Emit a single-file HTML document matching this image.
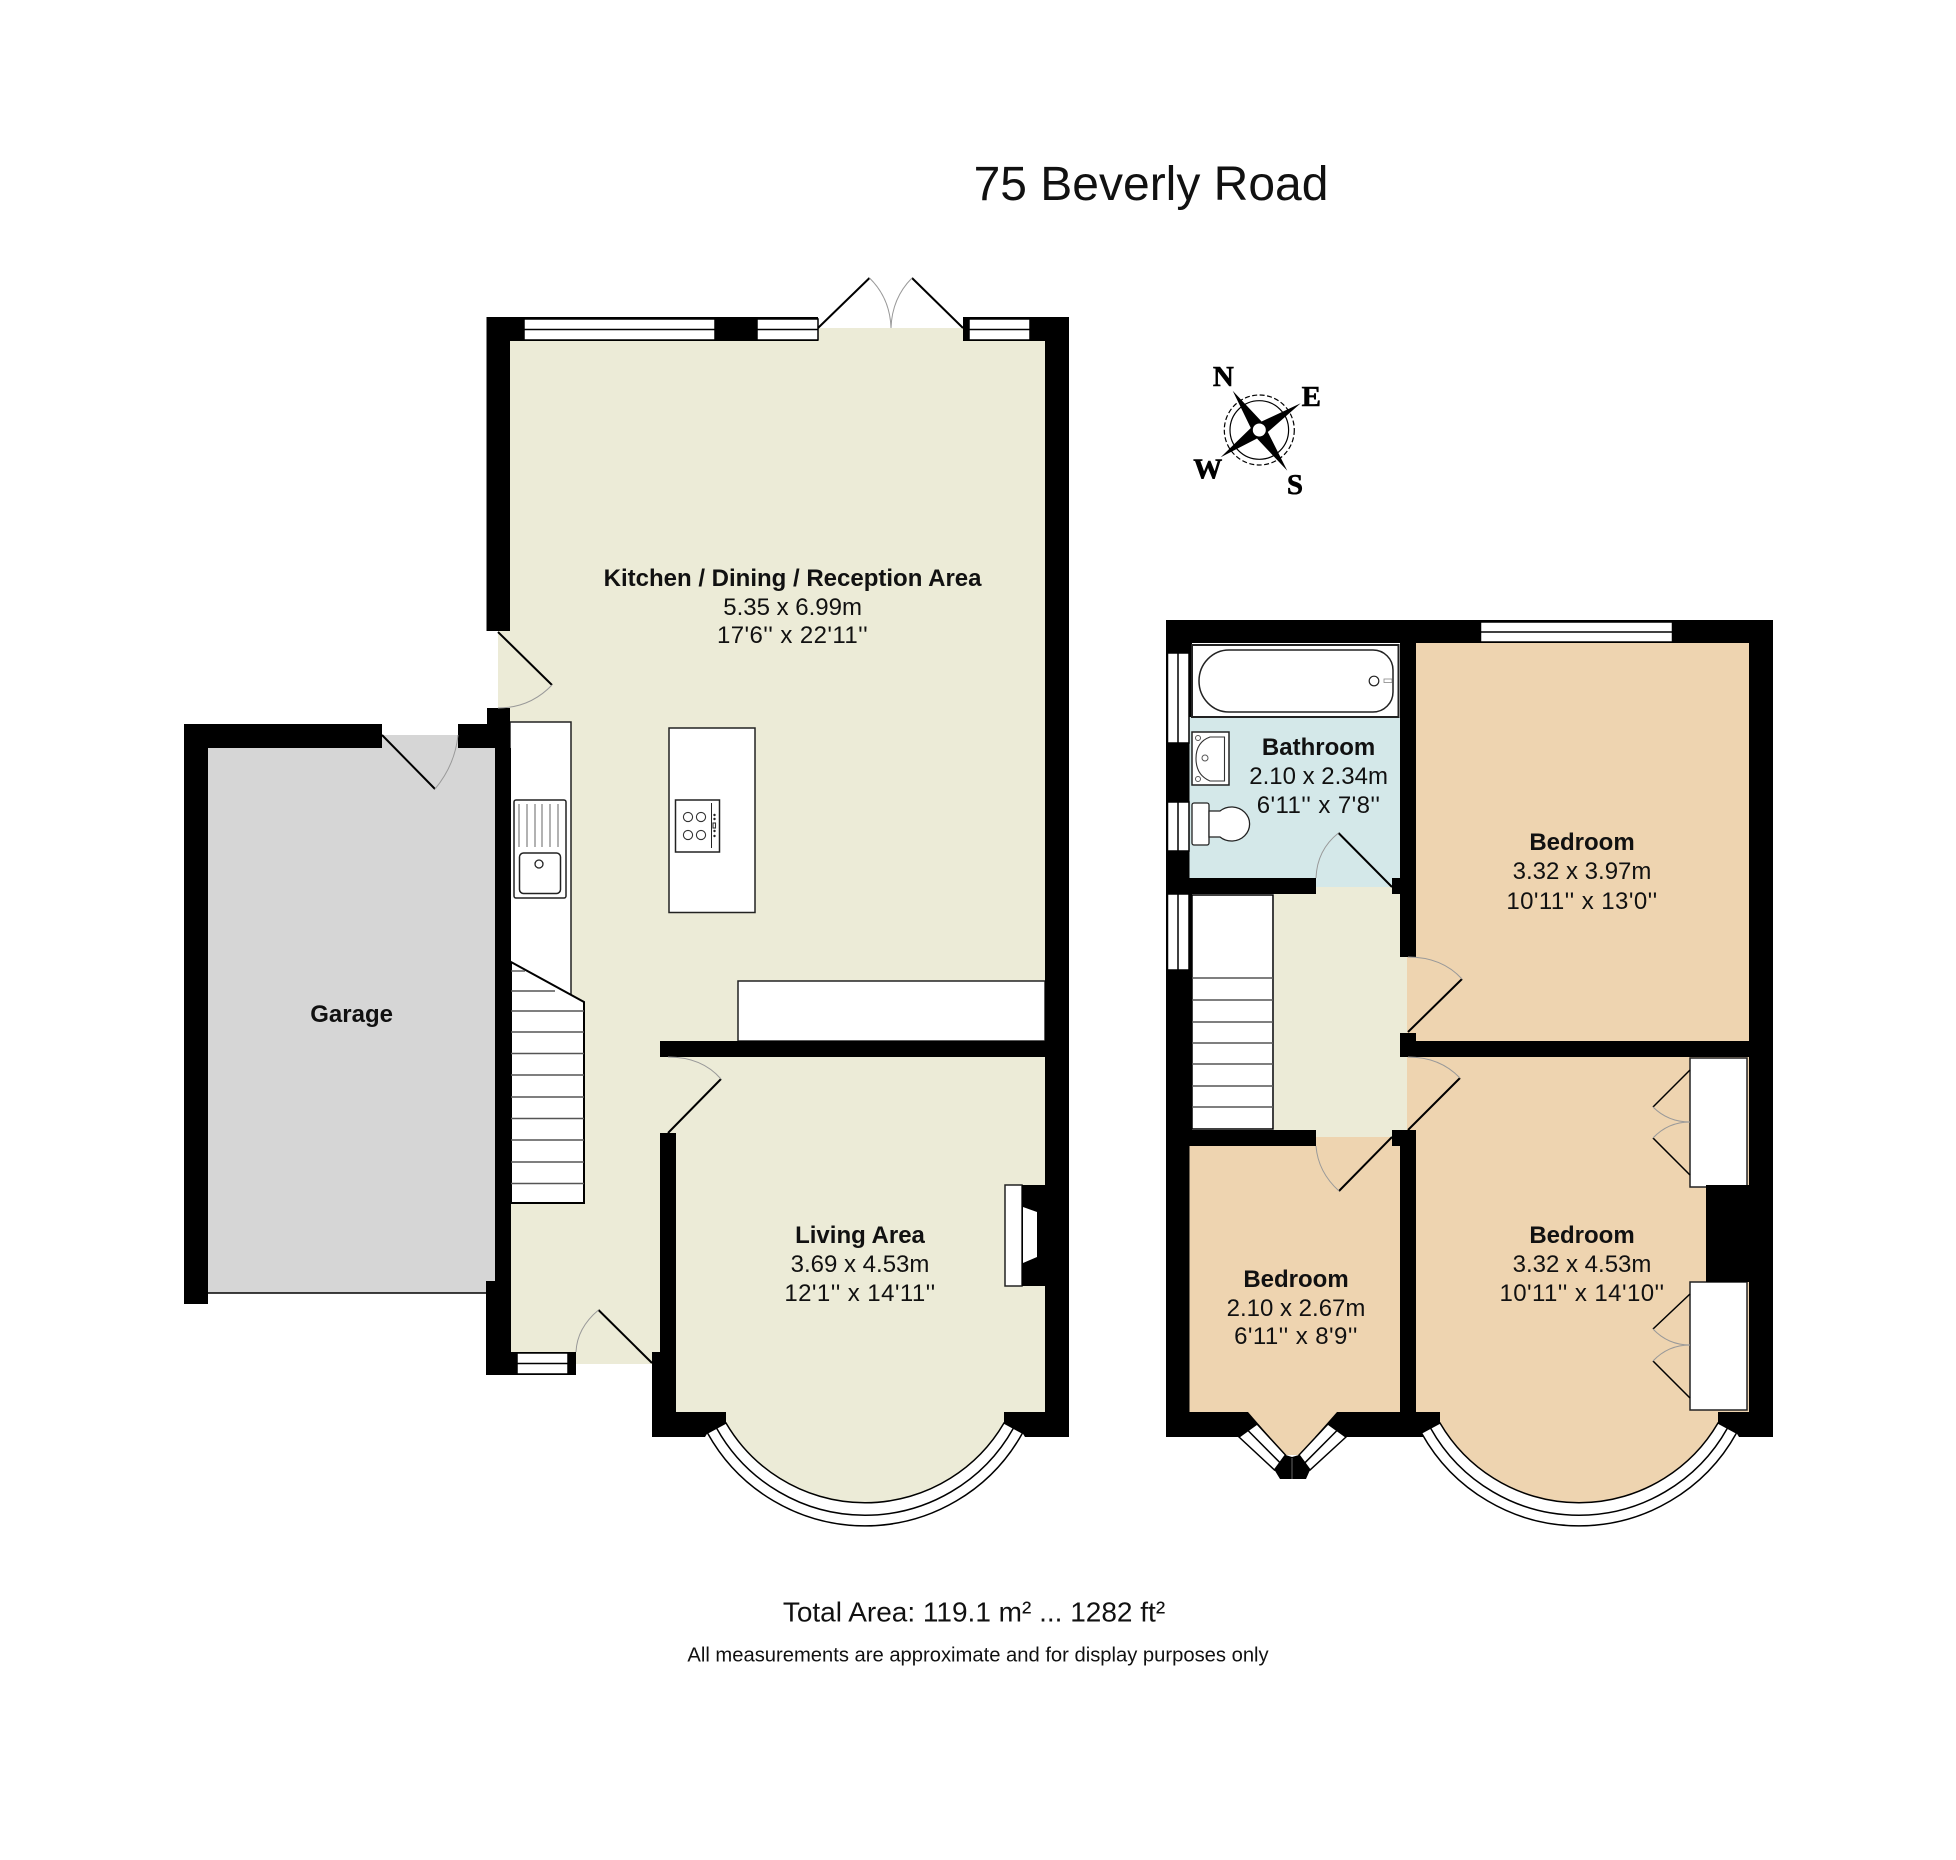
<!DOCTYPE html>
<html lang="en">
<head>
<meta charset="utf-8">
<title>75 Beverly Road</title>
<style>
html,body{margin:0;padding:0;background:#fff;width:1956px;height:1860px;overflow:hidden}
svg{display:block}
text{font-family:"Liberation Sans",sans-serif;fill:#111;text-anchor:middle}
.t{font-size:24px}
.ft{font-size:24px;letter-spacing:.42px}
.b{font-size:24px;font-weight:bold}
.c{font-family:"Liberation Serif",serif;font-size:29px;font-weight:bold;fill:#000;stroke:#000;stroke-width:.6}
.k{fill:#000;stroke:none}
.w{fill:#fff;stroke:#000;stroke-width:1.5}
.m{fill:none;stroke:#000;stroke-width:1.5}
.leaf{stroke:#000;stroke-width:2;fill:none}
.arc{stroke:#999;stroke-width:1;fill:none}
.f{fill:#fff;stroke:#222;stroke-width:1.5}
.s{stroke:#555;stroke-width:1.4}
.cr{fill:#ECEBD7}.be{fill:#EED4B0}.bl{fill:#D4E8E9}.gr{fill:#D6D6D6}
</style>
</head>
<body>
<svg width="1956" height="1860" viewBox="0 0 1956 1860" xmlns="http://www.w3.org/2000/svg">
<rect width="1956" height="1860" fill="#fff"/>
<text x="1151" y="200" style="font-size:48px">75 Beverly Road</text>

<!-- GROUND FLOOR floors -->
<rect class="gr" x="208" y="748" width="287" height="545"/>
<rect class="gr" x="382" y="735" width="76" height="13"/>
<rect class="cr" x="510" y="341" width="535" height="700"/>
<rect class="cr" x="818" y="328" width="145" height="13"/>
<rect class="cr" x="498" y="631" width="12" height="77"/>
<rect class="cr" x="510" y="1041" width="150" height="311"/>
<rect class="cr" x="576" y="1352" width="76" height="12"/>
<rect class="cr" x="660" y="1057" width="385" height="355"/>
<path class="cr" d="M726 1412V1423A161 161 0 0 0 1004 1423V1412Z"/>

<!-- fixtures ground -->
<polygon class="f" points="510,722 571,722 571,995 510,962"/>
<rect class="f" x="669" y="728" width="86" height="184.500"/>
<rect class="f" x="738" y="981" width="307" height="60"/>
<rect x="514" y="800" width="52" height="98" rx="2" fill="#fff" stroke="#222" stroke-width="1.5"/>
<rect x="519.500" y="853" width="41" height="40.500" rx="4" fill="#fff" stroke="#222" stroke-width="1.5"/>
<g stroke="#666" stroke-width="1">
<line x1="519" y1="804" x2="519" y2="847"/><line x1="527" y1="804" x2="527" y2="847"/><line x1="535" y1="804" x2="535" y2="847"/><line x1="542" y1="804" x2="542" y2="847"/><line x1="550" y1="804" x2="550" y2="847"/><line x1="558" y1="804" x2="558" y2="847"/>
</g>
<circle cx="539" cy="864" r="4" fill="#fff" stroke="#222" stroke-width="1.3"/>
<rect x="675.500" y="800" width="44" height="52" fill="#fff" stroke="#222" stroke-width="1.5"/>
<g fill="#fff" stroke="#333" stroke-width="1.1">
<circle cx="688" cy="817" r="4.600"/><circle cx="701" cy="817" r="4.600"/><circle cx="688" cy="835" r="4.600"/><circle cx="701" cy="835" r="4.600"/>
<rect x="713" y="823" width="2.500" height="5"/>
</g>
<line x1="711.500" y1="803" x2="711.500" y2="848" stroke="#222" stroke-width="1"/>
<g fill="#222"><circle cx="714.500" cy="815" r="1.200"/><circle cx="714.500" cy="819" r="1.200"/><circle cx="714.500" cy="831" r="1.200"/><circle cx="714.500" cy="836" r="1.200"/></g>

<!-- stairs -->
<polygon points="511,962 584,1002 584,1203 511,1203" fill="#fff" stroke="#000" stroke-width="2"/>
<g class="s">
<line x1="511" y1="971" x2="525" y2="971"/><line x1="511" y1="991" x2="555" y2="991"/><line x1="511" y1="1011" x2="584" y2="1011"/><line x1="511" y1="1032" x2="584" y2="1032"/><line x1="511" y1="1053.500" x2="584" y2="1053.500"/><line x1="511" y1="1075" x2="584" y2="1075"/><line x1="511" y1="1097" x2="584" y2="1097"/><line x1="511" y1="1118.500" x2="584" y2="1118.500"/><line x1="511" y1="1140" x2="584" y2="1140"/><line x1="511" y1="1162" x2="584" y2="1162"/><line x1="511" y1="1183.500" x2="584" y2="1183.500"/>
</g>

<!-- fireplace -->
<rect class="f" x="1005" y="1185" width="17" height="101"/>
<rect class="k" x="1022" y="1185" width="24" height="101"/>
<polygon points="1023,1207 1037,1212 1037,1257 1023,1263" fill="#fff"/>

<!-- walls ground -->
<g class="k">
<rect x="486.500" y="317" width="331.500" height="24"/>
<rect x="963" y="317" width="106" height="24"/>
<rect x="486.500" y="317" width="23.500" height="314"/>
<rect x="487" y="708" width="23" height="40"/>
<rect x="495" y="748" width="16" height="533"/>
<rect x="1045" y="317" width="24" height="1120"/>
<rect x="184" y="724" width="198" height="24"/>
<rect x="458" y="724" width="40" height="24"/>
<rect x="184" y="724" width="24" height="580"/>
<rect x="486" y="1281" width="25" height="94"/>
<rect x="511" y="1352" width="65" height="23"/>
<rect x="660" y="1041" width="409" height="16"/>
<rect x="660" y="1133" width="16" height="280"/>
<rect x="652" y="1352" width="24" height="85"/>
<polygon points="652,1412 726,1412 726,1423 707.500,1433 705,1437 652,1437"/>
<polygon points="1004,1412 1069,1412 1069,1437 1025,1437 1022.500,1433 1004,1423"/>
</g>
<line x1="184" y1="1293" x2="495" y2="1293" stroke="#000" stroke-width="1.500"/>

<!-- windows ground -->
<rect class="w" x="524" y="319" width="191" height="21"/><line class="m" x1="524" y1="329.500" x2="715" y2="329.500"/>
<rect class="w" x="757" y="319" width="61" height="21"/><line class="m" x1="757" y1="329.500" x2="818" y2="329.500"/>
<rect class="w" x="969" y="319" width="61" height="21"/><line class="m" x1="969" y1="329.500" x2="1030" y2="329.500"/>
<rect class="w" x="517" y="1353" width="51" height="21"/><line class="m" x1="517" y1="1363.500" x2="568" y2="1363.500"/>
<path class="w" d="M707.500 1433A180 180 0 0 0 1022.500 1433L1004 1423A161 161 0 0 1 726 1423Z"/>
<path class="m" d="M716.500 1428A170 170 0 0 0 1013.500 1428"/>

<!-- doors ground -->
<path class="leaf" d="M818 328L869.500 278M963 328L912 278M498 632L552 685M382 735L435 789M668 1133L721 1079M652 1363L598.500 1310"/>
<path class="arc" d="M869.500 278Q890 298 891 328M912 278Q892 298 891 328M552 685Q530 708 498 708M435 789Q455 765 458 735M721 1079Q702 1057 668 1057M598.500 1310Q577 1328 576 1352"/>

<!-- UPPER FLOOR floors -->
<rect class="bl" x="1189" y="717" width="211" height="161"/>
<rect class="bl" x="1316" y="878" width="76" height="9"/>
<rect class="cr" x="1274" y="887" width="133" height="250"/>
<rect class="be" x="1416" y="643" width="333" height="398"/>
<rect class="be" x="1407" y="957" width="9" height="76"/>
<rect class="be" x="1416" y="1057" width="333" height="355"/>
<rect class="be" x="1407" y="1057" width="9" height="73"/>
<rect class="be" x="1189" y="1146" width="211" height="266"/>
<rect class="be" x="1316" y="1137" width="76" height="9"/>

<!-- chimney + wardrobes -->
<rect class="f" x="1690" y="1058" width="57" height="129"/>
<rect class="f" x="1690" y="1282" width="57" height="128"/>
<rect class="k" x="1706" y="1185" width="43" height="97"/>

<!-- walls upper -->
<g class="k">
<rect x="1166" y="620" width="607" height="23"/>
<rect x="1166" y="620" width="23.500" height="817"/>
<rect x="1189" y="620" width="3" height="97"/>
<rect x="1189" y="878" width="3" height="252"/>
<rect x="1749" y="620" width="24" height="817"/>
<rect x="1400" y="620" width="16" height="337"/>
<rect x="1400" y="1033" width="16" height="24"/>
<rect x="1400" y="1041" width="373" height="16"/>
<rect x="1166" y="878" width="150" height="16"/>
<rect x="1392" y="878" width="8" height="16"/>
<rect x="1166" y="1130" width="150" height="16"/>
<rect x="1392" y="1130" width="24" height="16"/>
<rect x="1400" y="1130" width="16" height="307"/>
<rect x="1166" y="1412" width="274" height="25"/>
<polygon points="1416,1412 1440,1412 1440,1423 1421.500,1433 1419,1437 1416,1437"/>
<polygon points="1718,1412 1773,1412 1773,1437 1739,1437 1736.500,1433 1718,1423"/>
</g>
<polygon class="be" points="1248,1412 1285.500,1455 1299,1455 1337,1412"/>
<polygon points="1239,1437 1274.500,1470 1310,1470 1346,1437 1350,1445 1310,1485 1275,1485 1235,1445" fill="#fff"/>
<polygon class="k" points="1285.500,1455 1274.500,1470 1280,1479 1306,1479 1310,1470 1299,1455 1292,1457"/>
<line x1="1292" y1="1458" x2="1292" y2="1479" stroke="#666" stroke-width="1"/>
<polygon class="w" points="1257,1424 1239,1437 1274.500,1470 1285.500,1455"/>
<line class="m" x1="1248" y1="1430.500" x2="1280" y2="1462.700"/>
<polygon class="w" points="1328,1424 1346,1437 1310,1470 1299,1455"/>
<line class="m" x1="1337" y1="1430.500" x2="1305" y2="1462.700"/>

<g transform="translate(714 0)">
<path class="be" d="M726 1412V1423A161 161 0 0 0 1004 1423V1412Z"/>
<path class="w" d="M707.500 1433A180 180 0 0 0 1022.500 1433L1004 1423A161 161 0 0 1 726 1423Z"/>
<path class="m" d="M716.500 1428A170 170 0 0 0 1013.500 1428"/>
</g>

<!-- windows upper -->
<rect class="w" x="1480.500" y="622" width="192" height="20"/><line class="m" x1="1480.500" y1="632" x2="1672.500" y2="632"/>
<rect class="w" x="1167.500" y="653" width="21.500" height="90"/><line class="m" x1="1178" y1="653" x2="1178" y2="743"/>
<rect class="w" x="1167.500" y="802" width="21.500" height="49"/><line class="m" x1="1178" y1="802" x2="1178" y2="851"/>
<rect class="w" x="1167.500" y="894" width="21.500" height="76"/><line class="m" x1="1178" y1="894" x2="1178" y2="970"/>

<!-- bath -->
<rect x="1192" y="645" width="206.500" height="72" fill="#fff" stroke="#222" stroke-width="2"/>
<path d="M1229 650H1373A20 20 0 0 1 1393 670V692A20 20 0 0 1 1373 712H1229A30 31 0 0 1 1199 681A30 31 0 0 1 1229 650Z" fill="#fff" stroke="#222" stroke-width="1.500"/>
<circle cx="1374" cy="681" r="4.800" fill="#fff" stroke="#222" stroke-width="1.200"/>
<rect x="1384" y="679" width="8" height="3.500" fill="#fff" stroke="#888" stroke-width=".8"/>
<!-- basin -->
<rect x="1192" y="732" width="37" height="53" fill="#fff" stroke="#222" stroke-width="1.500"/>
<path d="M1224.500 737H1210Q1196 742 1196 758.500Q1196 775 1210 781H1224.500Z" fill="#fff" stroke="#333" stroke-width="1.100"/>
<g fill="#fff" stroke="#555" stroke-width="1"><circle cx="1198" cy="738" r="2.500"/><circle cx="1198" cy="779" r="2.500"/><circle cx="1205" cy="758" r="3"/></g>
<!-- wc -->
<rect x="1192" y="803" width="17" height="42" rx="2" fill="#fff" stroke="#222" stroke-width="1.300"/>
<path d="M1209 811H1220A18 17 0 1 1 1220 837H1209Z" fill="#fff" stroke="#222" stroke-width="1.300"/>

<!-- stairs upper -->
<rect x="1192" y="895" width="81" height="234" fill="#fff" stroke="#000" stroke-width="1.500"/>
<g class="s"><line x1="1192" y1="978" x2="1273" y2="978"/><line x1="1192" y1="1000" x2="1273" y2="1000"/><line x1="1192" y1="1022" x2="1273" y2="1022"/><line x1="1192" y1="1043" x2="1273" y2="1043"/><line x1="1192" y1="1064" x2="1273" y2="1064"/><line x1="1192" y1="1086" x2="1273" y2="1086"/><line x1="1192" y1="1107" x2="1273" y2="1107"/></g>

<!-- doors upper -->
<path class="leaf" d="M1392 887L1338.500 833M1408 1032L1462 979M1408 1130L1460 1078M1392 1137L1339 1191"/>
<path class="arc" d="M1338.500 833Q1317 850 1316 878M1462 979Q1442 957 1408 957M1460 1078Q1440 1057 1408 1057M1339 1191Q1318 1172 1316 1146"/>
<path d="M1690 1070L1653 1107M1690 1175L1653 1138M1690 1294L1653 1329M1690 1398L1653 1361" stroke="#000" stroke-width="1.500" fill="none"/>
<path class="arc" d="M1653 1107Q1668 1122 1690 1122M1653 1138Q1668 1122 1690 1122M1653 1329Q1668 1345 1690 1345M1653 1361Q1668 1345 1690 1345"/>

<!-- compass -->
<circle cx="1259.300" cy="430" r="29.300" fill="none" stroke="#000" stroke-width="1.200"/>
<circle cx="1259.300" cy="430" r="35" fill="none" stroke="#000" stroke-width="1.200" stroke-dasharray="5 2.500"/>
<polygon class="k" points="1232.700,390.700 1261.600,421.500 1300.700,403.300 1267.800,432 1287.300,470.700 1257,438.500 1220.700,457.300 1250.800,428"/>
<circle cx="1259.300" cy="430" r="6.500" fill="#fff"/>
<text class="c" x="1223.300" y="386">N</text>
<text class="c" x="1311.300" y="406">E</text>
<text class="c" x="1207.700" y="478.300">W</text>
<text class="c" x="1295" y="494">S</text>

<!-- labels -->
<text class="b" x="792.600" y="586">Kitchen / Dining / Reception Area</text>
<text class="t" x="792.600" y="615">5.35 x 6.99m</text>
<text class="ft" x="792.600" y="643">17'6'' x 22'11''</text>

<text class="b" x="351.600" y="1022">Garage</text>

<text class="b" x="860" y="1243">Living Area</text>
<text class="t" x="860" y="1272">3.69 x 4.53m</text>
<text class="ft" x="860" y="1301">12'1'' x 14'11''</text>

<text class="b" x="1318.600" y="755">Bathroom</text>
<text class="t" x="1318.600" y="784">2.10 x 2.34m</text>
<text class="ft" x="1318.600" y="813">6'11'' x 7'8''</text>

<text class="b" x="1582" y="850">Bedroom</text>
<text class="t" x="1582" y="879">3.32 x 3.97m</text>
<text class="ft" x="1582" y="909">10'11'' x 13'0''</text>

<text class="b" x="1582" y="1243">Bedroom</text>
<text class="t" x="1582" y="1272">3.32 x 4.53m</text>
<text class="ft" x="1582" y="1301">10'11'' x 14'10''</text>

<text class="b" x="1296" y="1287">Bedroom</text>
<text class="t" x="1296" y="1316">2.10 x 2.67m</text>
<text class="ft" x="1296" y="1344">6'11'' x 8'9''</text>

<text x="974" y="1621.500" style="font-size:28px">Total Area: 119.1 m² ... 1282 ft²</text>
<text x="978" y="1661.500" style="font-size:20.2px">All measurements are approximate and for display purposes only</text>
</svg>
</body>
</html>
